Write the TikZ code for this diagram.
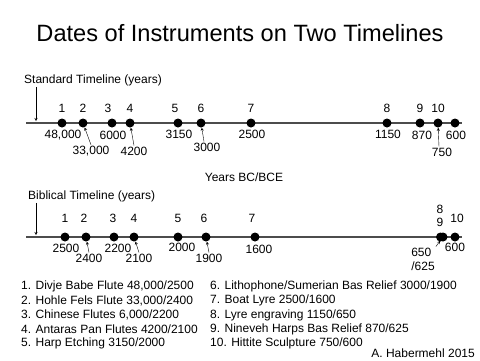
\documentclass[tikz,border=0pt]{standalone}
\usepackage{fontspec}
\setmainfont{Liberation Sans}
\begin{document}
\begin{tikzpicture}[x=1pt,y=-1pt,>=stealth,
  every node/.style={font=\fontsize{12}{14}\selectfont,inner sep=1pt},
  dot/.style={circle,fill=black,minimum size=9pt,inner sep=0pt},
  axis/.style={line width=2.6pt,black!70},
  tip/.style={->,thin}]
  \useasboundingbox (0,0) rectangle (480,360);

  % Titel
  \node[font=\fontsize{23.6}{28}\selectfont] (title) at (240,33) {Dates of Instruments on Two Timelines};

  % Standard-Zeitachse
  \node[anchor=west] (slab) at (23,80) {Standard Timeline (years)};
  \coordinate (sL) at (26,123);
  \coordinate (sR) at (462,123);
  \draw[axis] (sL) -- (sR);
  \coordinate (sa) at (36,121);
  \draw[tip] (slab.south -| sa) -- (sa);

  \foreach \n/\x in {1/62,2/83,3/112,4/130,5/178,6/201,7/251,8/387,9/420,10/438,11/455}
    \node[dot] (s\n) at (\x,123) {};
  \foreach \n/\x in {1/62,2/83,3/108,4/130,5/175,6/201,7/251,8/387,9/420,10/438}
    \node (sn\n) at (\x,108) {\n};
  \foreach \n/\x/\y/\t in {1/63/135/{48,000},2/91/151/{33,000},3/113/135/6000,4/134/151/4200,
      5/179/134/3150,6/207/147/3000,7/252/134/2500,8/388/134/1150,9/422/135/870,
      10/442/152/750,11/456/135/600}
    \node (sd\n) at (\x,\y) {\t};

  \draw[tip] (sd2.north) -- (s2);
  \draw[tip] (sd4.north) -- (s4);
  \draw[tip] ([xshift=-3pt]sd6.north) -- (s6);
  \draw[tip] ([xshift=-3pt]sd10.north) -- (s10);

  \node (unit) at (244,177) {Years BC/BCE};

  % Biblische Zeitachse
  \node[anchor=west] (blab) at (27,196) {Biblical Timeline (years)};
  \coordinate (bL) at (26,237);
  \coordinate (bR) at (462,237);
  \draw[axis] (bL) -- (bR);
  \coordinate (ba) at (36,235);
  \draw[tip] (blab.south -| ba) -- (ba);

  \foreach \n/\x in {1/65,2/86,3/114,4/134,5/178,6/206,7/255,8/440.5,9/443,10/455}
    \node[dot] (b\n) at (\x,237) {};
  \foreach \n/\x/\y in {1/65/218,2/84/218,3/113/218,4/134/218,5/178/218,6/204/218,
      7/252/218,8/440/209,9/440/222,10/457/218}
    \node (bn\n) at (\x,\y) {\n};
  \foreach \n/\x/\y/\t in {1/66/248/2500,2/89/258/2400,3/118/248/2200,4/139/258/2100,
      5/182/247/2000,6/209/258/1900,7/259/249/1600,10/455/247/600}
    \node (bd\n) at (\x,\y) {\t};
  \node[align=left] (bd9) at (423,259) {650\\/625};

  \draw[tip] (bd2.north) -- (b2);
  \draw[tip] (bd4.north) -- (b4);
  \draw[tip] (bd6.north) -- (b6);
  \draw[tip] (bd9.north east) -- (b9);

  % Legende
  \node[anchor=west] (leg1) at (20,286) {1. Divje Babe Flute 48,000/2500};
  \node[anchor=west] (leg2) at (20,300.5) {2. Hohle Fels Flute 33,000/2400};
  \node[anchor=west] (leg3) at (20,315) {3. Chinese Flutes 6,000/2200};
  \node[anchor=west] (leg4) at (20,329.5) {4. Antaras Pan Flutes 4200/2100};
  \node[anchor=west] (leg5) at (20,343) {5. Harp Etching 3150/2000};
  \node[anchor=west] (leg6) at (209,286) {6. Lithophone/Sumerian Bas Relief 3000/1900};
  \node[anchor=west] (leg7) at (209,300.5) {7. Boat Lyre 2500/1600};
  \node[anchor=west] (leg8) at (209,315) {8. Lyre engraving 1150/650};
  \node[anchor=west] (leg9) at (209,329.5) {9. Nineveh Harps Bas Relief 870/625};
  \node[anchor=west] (leg10) at (209,343) {10. Hittite Sculpture 750/600};
  \node[anchor=east] (author) at (476,353) {A. Habermehl 2015};
\end{tikzpicture}
\end{document}
